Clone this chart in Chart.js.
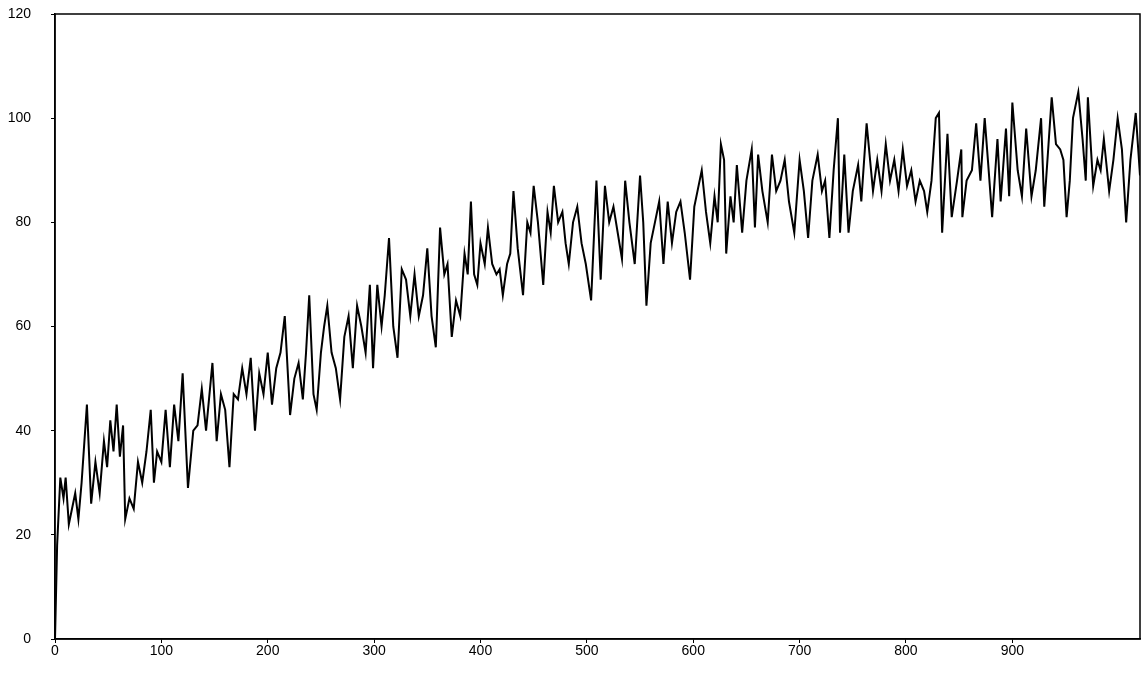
<!DOCTYPE html>
<html>
<head>
<meta charset="utf-8">
<script src="https://cdn.jsdelivr.net/npm/chart.js@4"></script>
<style>
    html, body { margin: 0; padding: 0; background: #fff; }
    #wrap { width: 1141px; height: 686px; }
</style>
</head>
<body>
<div id="wrap"><canvas id="plot"></canvas></div>
<script>
// Points: x position and value
const xs = [0,2,5,8,10,13,16,19,22,25,30,34,38,42,46,49,52,55,58,61,64,66,70,74,78,82,86,90,93,96,100,104,108,112,116,120,125,130,134,138,142,148,152,156,160,164,168,172,176,180,184,188,192,196,200,204,208,212,216,221,225,229,233,236,239,243,246,250,253,256,260,264,268,272,276,280,284,288,292,296,299,303,307,310,314,318,322,326,330,334,338,342,346,350,354,358,362,366,369,373,377,381,385,388,391,394,397,400,404,407,411,415,418,421,425,428,431,435,440,444,447,450,454,459,463,466,469,473,477,480,483,487,491,495,499,504,509,513,517,521,525,529,533,536,540,545,550,553,556,560,564,568,572,576,580,584,588,592,597,601,604,608,612,616,620,623,626,629,631,635,638,641,646,650,655,658,661,665,670,674,678,682,686,690,695,700,704,708,712,717,721,724,728,732,736,738,742,746,750,755,758,763,769,773,777,781,785,789,793,797,801,805,809,813,817,820,824,828,831,834,839,843,848,852,853,857,862,866,870,874,877,881,886,889,894,897,900,905,909,913,918,922,927,930,934,937,941,945,948,951,954,957,962,966,969,971,976,980,983,986,991,995,999,1003,1007,1011,1016,1020];
const ys = [0,18,31,27,31,22,25,28,23,30,45,26,34,28,38,33,42,36,45,35,41,23,27,25,34,30,36,44,30,36,34,44,33,45,38,51,29,40,41,48,40,53,38,47,44,33,47,46,52,47,54,40,51,47,55,45,52,55,62,43,50,53,46,55,66,47,44,55,60,64,55,52,46,58,62,52,64,60,55,68,52,68,60,66,77,60,54,71,69,62,70,62,66,75,62,56,79,70,72,58,65,62,74,70,84,70,68,76,72,79,72,70,71,66,72,74,86,75,66,80,78,87,80,68,82,78,87,80,82,76,72,80,83,76,72,65,88,69,87,80,83,78,73,88,80,72,89,80,64,76,80,84,72,84,76,82,84,78,69,83,86,90,82,76,85,80,95,92,74,85,80,91,78,88,94,79,93,86,80,93,86,88,92,84,78,92,86,77,88,93,86,88,77,90,100,78,93,78,86,91,84,99,86,92,86,95,88,92,86,94,87,90,84,88,86,82,88,100,101,78,97,81,88,94,81,88,90,99,88,100,92,81,96,84,98,85,103,90,85,98,85,90,100,83,95,104,95,94,92,81,88,100,105,96,88,104,87,92,90,96,86,92,100,94,80,92,101,89];
const xTicks = [0,100,200,300,400,500,600,700,800,900];
const yTicks = [0,20,40,60,80,100,120];

const frame = {
    id: 'frame',
    afterDraw(chart) {
        const a = chart.chartArea, c = chart.ctx;
        c.save();
        c.strokeStyle = '#000';
        c.lineWidth = 1.5;
        c.strokeRect(a.left, a.top, a.right - a.left, a.bottom - a.top);
        c.restore();
    }
};

new Chart(document.getElementById('plot'), {
    type: 'line',
    data: {
        datasets: [{
            data: xs.map((x, i) => ({ x: x, y: ys[i] })),
            borderColor: '#000',
            borderWidth: 2,
            pointRadius: 0,
            tension: 0,
            fill: false
        }]
    },
    options: {
        responsive: true,
        maintainAspectRatio: false,
        animation: false,
        layout: { padding: { top: 14, right: 1, left: 0, bottom: 0 } },
        plugins: { legend: { display: false }, tooltip: { enabled: false } },
        scales: {
            x: {
                type: 'linear', min: 0, max: 1020,
                afterBuildTicks: s => { s.ticks = xTicks.map(v => ({ value: v })); },
                afterFit: s => { s.height = 47; s.paddingLeft = 0; s.paddingRight = 0; },
                grid: { drawOnChartArea: false, color: '#000', tickLength: 4, tickColor: '#000' },
                border: { color: '#000', width: 1.5 },
                ticks: { color: '#000', font: { family: 'Liberation Sans', size: 14 }, maxRotation: 0, padding: 0 }
            },
            y: {
                min: 0, max: 120,
                afterBuildTicks: s => { s.ticks = yTicks.map(v => ({ value: v })); },
                afterFit: s => { s.width = 55; s.paddingTop = 0; s.paddingBottom = 0; },
                grid: { drawOnChartArea: false, color: '#000', tickLength: 4, tickColor: '#000' },
                border: { color: '#000', width: 1.5 },
                ticks: { color: '#000', font: { family: 'Liberation Sans', size: 14 }, padding: 20 }
            }
        }
    },
    plugins: [frame]
});
</script>
</body>
</html>
